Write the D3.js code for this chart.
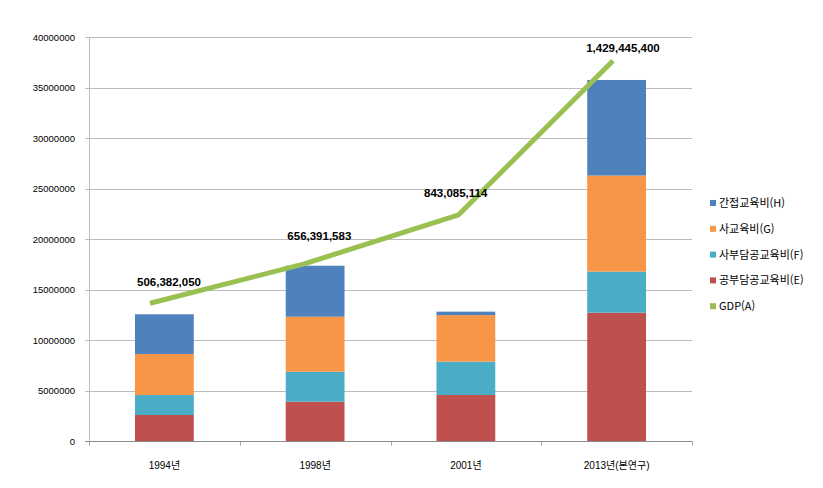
<!DOCTYPE html>
<html lang="ko">
<head>
<meta charset="UTF-8">
<title>교육비와 GDP</title>
<script src="https://d3js.org/d3.v7.min.js"></script>
<style>
  body { margin: 0; background: #fff; }
  svg text { font-family: "Liberation Sans", Arial, "Noto Sans CJK KR", sans-serif; }
  .tick-label { font-size: 9.5px; fill: #000; }
  .x-label { font-size: 10px; fill: #000; }
  .gdp-label { font-size: 11.5px; font-weight: bold; fill: #000; }
  .legend text { font-family: "Noto Sans CJK KR", sans-serif; font-size: 11px; }
</style>
</head>
<body>
<div id="chart"></div>
<script>
// data
const years = ["1994년", "1998년", "2001년", "2013년(본연구)"];
const publicEdu = [2620000, 3930000, 4600000, 12740000];   // 공부담공교육비(E)
const privPublicEdu = [1980000, 2970000, 3300000, 4060000]; // 사부담공교육비(F)
const privateEdu = [4050000, 5440000, 4600000, 9500000];    // 사교육비(G)
const indirectEdu = [3930000, 5040000, 340000, 9450000];    // 간접교육비(H)
const gdp = [506382050, 656391583, 843085114, 1429445400];  // GDP(A)
const yTicks = [0, 5000000, 10000000, 15000000, 20000000, 25000000, 30000000, 35000000, 40000000];

const series = [
  { key: "E", name: "공부담공교육비(E)", values: publicEdu, color: "#C0504D" },
  { key: "F", name: "사부담공교육비(F)", values: privPublicEdu, color: "#4BACC6" },
  { key: "G", name: "사교육비(G)", values: privateEdu, color: "#F79646" },
  { key: "H", name: "간접교육비(H)", values: indirectEdu, color: "#4F81BD" }
];

const width = 823, height = 488;
const plot = { left: 89, right: 692, top: 37, bottom: 441.5 };

const svg = d3.select("#chart").append("svg")
  .attr("width", width)
  .attr("height", height);

const x = d3.scaleBand()
  .domain(years)
  .range([plot.left, plot.right])
  .paddingInner(0.61)
  .paddingOuter(0.305);

const y = d3.scaleLinear()
  .domain([0, 40000000])
  .range([plot.bottom, plot.top]);

// GDP sits on a hidden secondary axis
const y2 = d3.scaleLinear()
  .domain([-19800000, 1520000000])
  .range([plot.bottom, plot.top]);

// the GDP line is drawn a little left of the bar centres
const xLine = d3.scalePoint()
  .domain(years)
  .range([150, 613]);

// gridlines + left ticks
svg.append("g").selectAll("line")
  .data(yTicks.filter(d => d > 0))
  .enter().append("line")
  .attr("x1", plot.left - 4)
  .attr("x2", plot.right)
  .attr("y1", d => Math.round(y(d)) + 0.5)
  .attr("y2", d => Math.round(y(d)) + 0.5)
  .attr("stroke", "#bcbcbc");

svg.append("g").selectAll("text")
  .data(yTicks)
  .enter().append("text")
  .attr("class", "tick-label")
  .attr("x", 75)
  .attr("y", d => y(d) + 3.5)
  .attr("text-anchor", "end")
  .text(d => d3.format("d")(d));

// stacked bars
const stack = d3.stack()
  .keys(series.map(s => s.key))
  (years.map((yr, i) => {
    const row = { year: yr };
    series.forEach(s => row[s.key] = s.values[i]);
    return row;
  }));

svg.append("g").selectAll("g")
  .data(stack)
  .enter().append("g")
  .attr("fill", (d, i) => series[i].color)
  .selectAll("rect")
  .data(d => d)
  .enter().append("rect")
  .attr("x", d => x(d.data.year))
  .attr("width", x.bandwidth())
  .attr("y", d => y(d[1]))
  .attr("height", d => y(d[0]) - y(d[1]));

// axes lines
svg.append("line")
  .attr("x1", plot.left + 0.5).attr("x2", plot.left + 0.5)
  .attr("y1", plot.top).attr("y2", plot.bottom + 4)
  .attr("stroke", "#bcbcbc");

svg.append("line")
  .attr("x1", plot.left - 4).attr("x2", plot.right)
  .attr("y1", plot.bottom).attr("y2", plot.bottom)
  .attr("stroke", "#8c8c8c");

const step = x.step();
svg.append("g").selectAll("line")
  .data(d3.range(years.length + 1))
  .enter().append("line")
  .attr("x1", i => Math.round(plot.left + i * step) + 0.5)
  .attr("x2", i => Math.round(plot.left + i * step) + 0.5)
  .attr("y1", plot.bottom)
  .attr("y2", plot.bottom + 4)
  .attr("stroke", "#a0a0a0");

svg.append("g").selectAll("text")
  .data(years)
  .enter().append("text")
  .attr("class", "x-label")
  .attr("x", d => x(d) + x.bandwidth() / 2)
  .attr("y", 469)
  .attr("text-anchor", "middle")
  .text(d => d);

// GDP line
const line = d3.line()
  .x((d, i) => xLine(years[i]))
  .y(d => y2(d));

svg.append("path")
  .datum(gdp)
  .attr("d", line)
  .attr("fill", "none")
  .attr("stroke", "#9BC052")
  .attr("stroke-width", 5)
  .attr("stroke-linejoin", "round");

const labelShift = [[19, -22], [15, -28], [-3, -22], [10, -13]];
svg.append("g").selectAll("text")
  .data(gdp)
  .enter().append("text")
  .attr("class", "gdp-label")
  .attr("x", (d, i) => xLine(years[i]) + labelShift[i][0])
  .attr("y", (d, i) => y2(d) + labelShift[i][1] + 4.5)
  .attr("text-anchor", "middle")
  .text(d => d3.format(",")(d));

// legend
const legendItems = [...series].reverse().concat([{ name: "GDP(A)", color: "#9BBB59" }]);
const legend = svg.append("g").attr("class", "legend")
  .selectAll("g")
  .data(legendItems)
  .enter().append("g")
  .attr("transform", (d, i) => `translate(710, ${203 + i * 25.8})`);

legend.append("rect")
  .attr("x", 0).attr("y", -3)
  .attr("width", 6).attr("height", 6)
  .attr("fill", d => d.color);

legend.append("text")
  .attr("x", 9)
  .attr("y", 4)
  .text(d => d.name);
</script>
</body>
</html>
